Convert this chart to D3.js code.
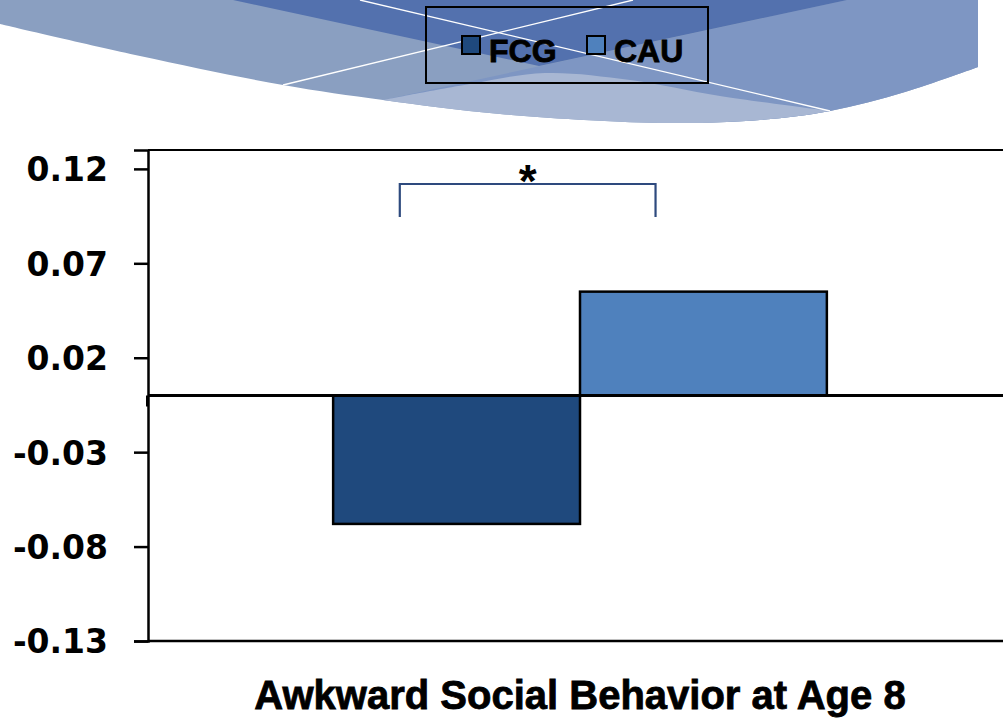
<!DOCTYPE html>
<html>
<head>
<meta charset="utf-8">
<script src="https://cdn.jsdelivr.net/npm/d3@7"></script>
<style>
  body { margin: 0; background: #fff; }
  svg { display: block; }
  text { font-family: "Liberation Sans", Arial, sans-serif; font-weight: bold; fill: #000; }
</style>
</head>
<body>
<div id="chart"></div>
<script>
// chart data
const categories = ["Awkward Social Behavior at Age 8"]
const seriesNames = ["FCG", "CAU"]
const seriesValues = [-0.068, 0.055]
const seriesColors = ["#1f497d", "#4f81bd"]
const yTicks = [-0.13, -0.08, -0.03, 0.02, 0.07, 0.12]
const yDomain = [-0.13, 0.13]
const sigLabel = "*"

// setup dimensions
const W = 1003, H = 719
const margin = { top: 150, right: -9, bottom: 78, left: 148 }
const innerW = W - margin.left - margin.right
const innerH = H - margin.top - margin.bottom

const svg = d3.select("#chart")
  .append("svg")
    .attr("width", W)
    .attr("height", H)

// ---- decorative slide background (top wave) ----
const waveBottom = [[0,24],[140,56],[283,85],[383,100],[500,114],[667,123],[760,120],[830,111],[905,92],[978,67]]
const lightBandTop = [[383,100],[470,84],[545,73],[630,80],[720,96],[830,111]]

const curve = d3.line().curve(d3.curveCatmullRom)
const outerPath = "M0,0L978,0" + curve(waveBottom.slice().reverse()).replace(/^M/, "L") + "Z"

svg.append("clipPath").attr("id", "waveClip")
  .append("path").attr("d", outerPath)

const bg = svg.append("g").attr("clip-path", "url(#waveClip)")
bg.append("rect").attr("x", 0).attr("y", 0).attr("width", 1003).attr("height", 140).attr("fill", "#8a9fc1")
bg.append("path").attr("d", "M847,0L1003,0L1003,140L383,100Z").attr("fill", "#7e96c3")
bg.append("path").attr("d", "M233,0L847,0L539,66Z").attr("fill", "#5371ae")
bg.append("path")
  .attr("d", curve(lightBandTop) + "L830,140L383,140Z")
  .attr("fill", "#a8b7d3")
bg.append("line").attr("x1", 360).attr("y1", 0).attr("x2", 830).attr("y2", 111)
  .attr("stroke", "#fff").attr("stroke-width", 1.3)
bg.append("line").attr("x1", 283).attr("y1", 85).attr("x2", 633).attr("y2", 0)
  .attr("stroke", "#fff").attr("stroke-width", 1.3)

// ---- legend ----
const legend = svg.append("g")
legend.append("rect")
  .attr("x", 426).attr("y", 7).attr("width", 282).attr("height", 76)
  .attr("fill", "none").attr("stroke", "#000").attr("stroke-width", 2)
const legendX = [462, 587]
seriesNames.forEach((name, i) => {
  legend.append("rect")
    .attr("x", legendX[i]).attr("y", 36).attr("width", 18).attr("height", 18)
    .attr("fill", seriesColors[i]).attr("stroke", "#000").attr("stroke-width", 2)
  legend.append("text")
    .attr("x", legendX[i] + 27).attr("y", 62)
    .attr("font-size", 32)
    .attr("stroke", "#000").attr("stroke-width", 0.8)
    .text(name)
})

// ---- chart ----
const g = svg.append("g")
  .attr("transform", `translate(${margin.left},${margin.top})`)

const y = d3.scaleLinear().domain(yDomain).range([innerH, 0])
const x0 = d3.scaleBand().domain(categories).range([0, innerW]).paddingInner(0).paddingOuter(0.375)
const x1 = d3.scaleBand().domain(seriesNames).range([0, x0.bandwidth()])

// plot border (top / bottom)
g.append("line").attr("x1", 0).attr("x2", innerW).attr("y1", 0).attr("y2", 0)
  .attr("stroke", "#000").attr("stroke-width", 2)
g.append("line").attr("x1", 0).attr("x2", innerW).attr("y1", innerH).attr("y2", innerH)
  .attr("stroke", "#000").attr("stroke-width", 2.5)

// bars
g.selectAll(".bar")
  .data(seriesValues)
  .enter().append("rect")
    .attr("class", "bar")
    .attr("x", (d, i) => x0(categories[0]) + x1(seriesNames[i]))
    .attr("y", d => y(Math.max(0, d)))
    .attr("width", x1.bandwidth())
    .attr("height", d => Math.abs(y(d) - y(0)))
    .attr("fill", (d, i) => seriesColors[i])
    .attr("stroke", "#000")
    .attr("stroke-width", 2.5)

// zero line (category axis)
g.append("line").attr("x1", 0).attr("x2", innerW).attr("y1", y(0)).attr("y2", y(0))
  .attr("stroke", "#000").attr("stroke-width", 3)
g.append("line").attr("x1", -1).attr("x2", -1).attr("y1", y(0)).attr("y2", y(0) + 11)
  .attr("stroke", "#000").attr("stroke-width", 2)

// y axis
const yAxis = g.append("g")
  .call(d3.axisLeft(y).tickValues(yTicks).tickSize(14).tickPadding(26)
    .tickFormat(d3.format(".2f")))
yAxis.select(".domain").attr("stroke", "#000").attr("stroke-width", 2.5)
yAxis.selectAll(".tick line").attr("stroke", "#000").attr("stroke-width", 2.5)
yAxis.selectAll(".tick text")
  .style("font-size", "33px")
  .style("font-family", "'DejaVu Sans', sans-serif")
  .style("font-weight", "bold")
  .attr("fill", "#000")
  .attr("dy", "0.36em")
  .text(d => d3.format(".2f")(d).replace("−", "-"))

// category label
g.append("text")
  .attr("x", x0(categories[0]) + x0.bandwidth() / 2)
  .attr("y", innerH + 68)
  .attr("text-anchor", "middle")
  .attr("font-size", 40)
  .attr("stroke", "#000").attr("stroke-width", 0.8)
  .text(categories[0])

// significance bracket
const bw = x0.bandwidth()
const bx1 = x0(categories[0]) + bw * 0.135
const bx2 = x0(categories[0]) + bw * 0.653
const bracketTop = 0.112, bracketBottom = 0.0945
g.append("path")
  .attr("d", `M${bx1},${y(bracketBottom)}L${bx1},${y(bracketTop)}L${bx2},${y(bracketTop)}L${bx2},${y(bracketBottom)}`)
  .attr("fill", "none")
  .attr("stroke", "#2e4a7e")
  .attr("stroke-width", 2.2)
g.append("text")
  .attr("x", (bx1 + bx2) / 2)
  .attr("y", y(bracketTop) + 13)
  .attr("text-anchor", "middle")
  .attr("font-size", 46)
  .text(sigLabel)
</script>
</body>
</html>
